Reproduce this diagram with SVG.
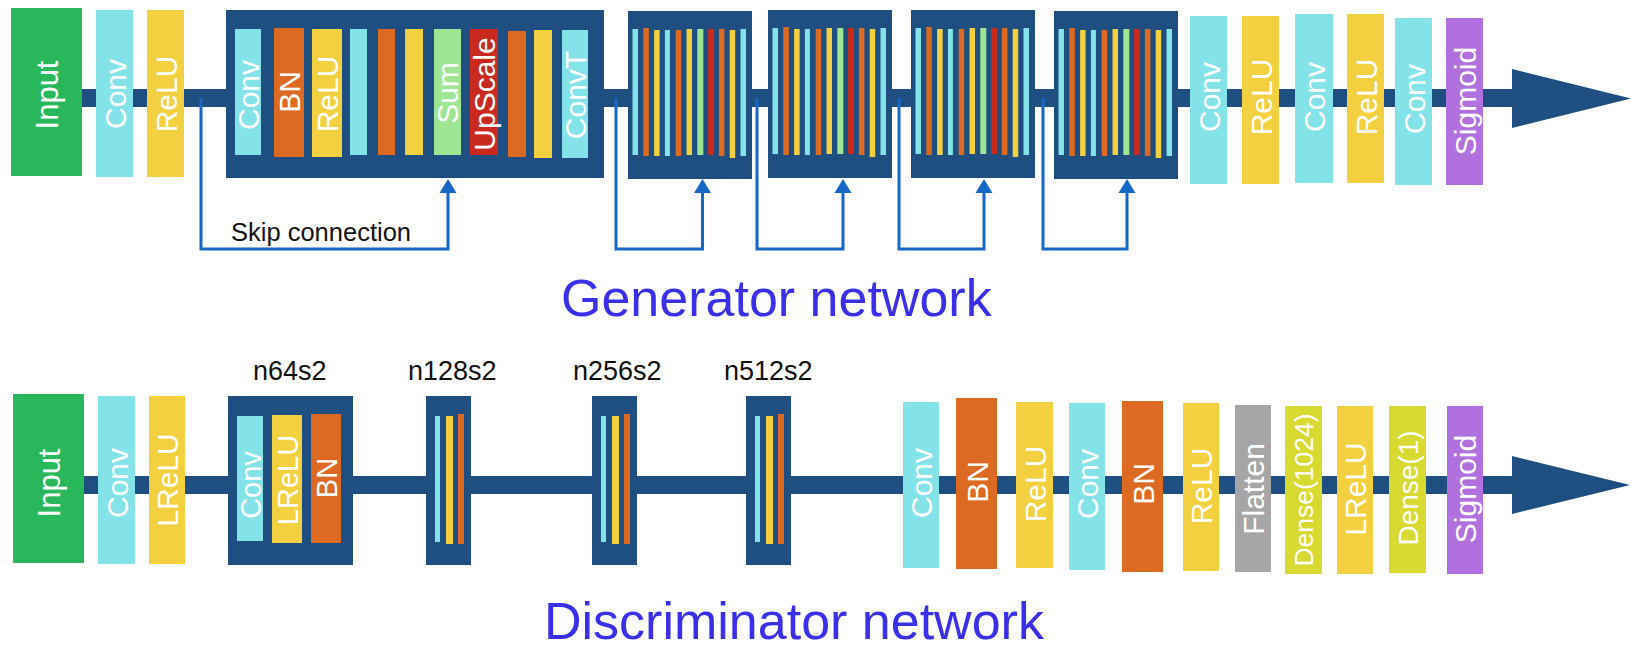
<svg xmlns="http://www.w3.org/2000/svg" xmlns:xlink="http://www.w3.org/1999/xlink" width="1636" height="648" viewBox="0 0 1636 648">
  <style>
    .navy { fill: #1e4f80; }
    .inp { fill: #28b75a; }
    .cyan { fill: #84e3e8; }
    .yel { fill: #f2d03f; }
    .org { fill: #dc6a22; }
    .mint { fill: #9ee694; }
    .red { fill: #c82b1d; }
    .pur { fill: #b070de; }
    .gray { fill: #a6a6a6; }
    .lime { fill: #d8d931; }
    .lbl { fill: #ffffff; font-family: "Liberation Sans", Arial, Helvetica, sans-serif; font-size: 30px; text-anchor: middle; }
    .cap { fill: #111111; font-family: "Liberation Sans", Arial, Helvetica, sans-serif; font-size: 27px; }
    .title { fill: #3b30ea; font-family: "Liberation Sans", Arial, Helvetica, sans-serif; font-size: 52px; }
    .skip { fill: none; stroke: #1767c4; stroke-width: 3; }
    .skiphead { fill: #1767c4; }
  </style>
  <defs>
    <!-- residual block: conv, bn, relu, conv, bn, relu, sum, upscale, bn, relu, convT -->
    <g id="resblock">
      <rect class="navy" x="0" y="0" width="124" height="168"/>
      <rect class="cyan" x="4.5" y="18" width="5.5" height="126"/>
      <rect class="org" x="15.3" y="17" width="5.5" height="128"/>
      <rect class="yel" x="26.1" y="19" width="5.5" height="126"/>
      <rect class="cyan" x="36.9" y="19" width="5" height="126"/>
      <rect class="org" x="47.7" y="19" width="5.5" height="126"/>
      <rect class="yel" x="58.5" y="18" width="5.5" height="126"/>
      <rect class="mint" x="69.3" y="18" width="6" height="126"/>
      <rect class="red" x="80.1" y="18" width="6" height="126"/>
      <rect class="org" x="90.9" y="18" width="5.5" height="127"/>
      <rect class="yel" x="101.7" y="19" width="5.5" height="128"/>
      <rect class="cyan" x="112.5" y="18" width="5.5" height="127"/>
    </g>
    <!-- strided block: conv, lrelu, bn -->
    <g id="strideblock">
      <rect class="navy" x="0" y="0" width="45" height="169"/>
      <rect class="cyan" x="9" y="20" width="5" height="126"/>
      <rect class="yel" x="20" y="20" width="7" height="128"/>
      <rect class="org" x="32" y="18" width="6" height="130"/>
    </g>
  </defs>

  <!-- ================= Generator ================= -->
  <g id="gen-connectors">
    <rect class="navy" x="80" y="89" width="1436" height="18"/>
    <polygon class="navy" points="1512,69 1631,98.5 1512,128"/>
    <path class="skip" d="M201 98 V249 H448 V192"/>
    <polygon class="skiphead" points="439.5,193 456.5,193 448,179"/>
    <path class="skip" d="M616 98 V249 H702.5 V192"/>
    <polygon class="skiphead" points="694,193 711,193 702.5,179"/>
    <path class="skip" d="M757 98 V249 H843 V192"/>
    <polygon class="skiphead" points="834.5,193 851.5,193 843,179"/>
    <path class="skip" d="M899 98 V249 H984 V192"/>
    <polygon class="skiphead" points="975.5,193 992.5,193 984,179"/>
    <path class="skip" d="M1043 98 V249 H1127 V192"/>
    <polygon class="skiphead" points="1118.5,193 1135.5,193 1127,179"/>
  </g>
  <text class="cap" x="231" y="241" style="font-size:25.5px">Skip connection</text>

  <g id="g-input">
    <rect class="inp" x="11" y="8" width="71" height="168"/>
    <text class="lbl" style="font-size:31px" transform="translate(58,95) rotate(-90)">Input</text>
  </g>
  <g id="g-conv1">
    <rect class="cyan" x="96" y="10" width="37" height="167"/>
    <text class="lbl" transform="translate(126,94) rotate(-90)">Conv</text>
  </g>
  <g id="g-relu1">
    <rect class="yel" x="147" y="10" width="37" height="167"/>
    <text class="lbl" transform="translate(177,94) rotate(-90)">ReLU</text>
  </g>

  <g id="g-resblock-detail">
    <rect class="navy" x="226" y="10" width="378" height="168"/>
    <rect class="cyan" x="235" y="29" width="26" height="126"/>
    <text class="lbl" transform="translate(259,95) rotate(-90)">Conv</text>
    <rect class="org" x="274" y="28" width="30" height="129"/>
    <text class="lbl" transform="translate(300,92) rotate(-90)">BN</text>
    <rect class="yel" x="312" y="29" width="30" height="128"/>
    <text class="lbl" transform="translate(338,94) rotate(-90)">ReLU</text>
    <rect class="cyan" x="350" y="29" width="17" height="126"/>
    <rect class="org" x="378" y="29" width="17" height="126"/>
    <rect class="yel" x="405" y="29" width="18" height="126"/>
    <rect class="mint" x="434" y="29" width="27" height="126"/>
    <text class="lbl" transform="translate(458,93) rotate(-90)">Sum</text>
    <rect class="red" x="470" y="29" width="28" height="126"/>
    <text class="lbl" transform="translate(495,94) rotate(-90)">UpScale</text>
    <rect class="org" x="508" y="31" width="18" height="126"/>
    <rect class="yel" x="534" y="30" width="18" height="128"/>
    <rect class="cyan" x="562" y="30" width="26" height="128"/>
    <text class="lbl" transform="translate(586,95) rotate(-90)">ConvT</text>
  </g>

  <g id="g-resblock-1"><use xlink:href="#resblock" x="628" y="11"/></g>
  <g id="g-resblock-2"><use xlink:href="#resblock" x="768" y="10"/></g>
  <g id="g-resblock-3"><use xlink:href="#resblock" x="911" y="10"/></g>
  <g id="g-resblock-4"><use xlink:href="#resblock" x="1054" y="11"/></g>

  <g id="g-conv2">
    <rect class="cyan" x="1190" y="16" width="37" height="168"/>
    <text class="lbl" transform="translate(1220,97) rotate(-90)">Conv</text>
  </g>
  <g id="g-relu2">
    <rect class="yel" x="1242" y="16" width="37" height="168"/>
    <text class="lbl" transform="translate(1272,97) rotate(-90)">ReLU</text>
  </g>
  <g id="g-conv3">
    <rect class="cyan" x="1295" y="14" width="38" height="169"/>
    <text class="lbl" transform="translate(1325,97) rotate(-90)">Conv</text>
  </g>
  <g id="g-relu3">
    <rect class="yel" x="1347" y="14" width="37" height="169"/>
    <text class="lbl" transform="translate(1377,97) rotate(-90)">ReLU</text>
  </g>
  <g id="g-conv4">
    <rect class="cyan" x="1395" y="18" width="37" height="167"/>
    <text class="lbl" transform="translate(1425,99) rotate(-90)">Conv</text>
  </g>
  <g id="g-sigmoid">
    <rect class="pur" x="1446" y="18" width="37" height="167"/>
    <text class="lbl" transform="translate(1476,101) rotate(-90)">Sigmoid</text>
  </g>

  <text class="title" x="561" y="316">Generator network</text>

  <!-- ================= Discriminator ================= -->
  <g id="disc-connectors">
    <rect class="navy" x="80" y="476" width="1436" height="18"/>
    <polygon class="navy" points="1512,456 1630,485 1512,514"/>
  </g>

  <g id="d-input">
    <rect class="inp" x="13" y="394" width="71" height="169"/>
    <text class="lbl" style="font-size:31px" transform="translate(60,483) rotate(-90)">Input</text>
  </g>
  <g id="d-conv1">
    <rect class="cyan" x="98" y="396" width="37" height="168"/>
    <text class="lbl" transform="translate(128,483) rotate(-90)">Conv</text>
  </g>
  <g id="d-lrelu1">
    <rect class="yel" x="149" y="396" width="36" height="168"/>
    <text class="lbl" transform="translate(178,480) rotate(-90)">LReLU</text>
  </g>

  <g id="d-block-n64s2">
    <rect class="navy" x="228" y="396" width="125" height="169"/>
    <rect class="cyan" x="237" y="416" width="26" height="125"/>
    <text class="lbl" style="font-size:29px" transform="translate(261,485) rotate(-90)">Conv</text>
    <rect class="yel" x="272" y="415" width="30" height="128"/>
    <text class="lbl" style="font-size:29px" transform="translate(298,480) rotate(-90)">LReLU</text>
    <rect class="org" x="311" y="414" width="30" height="129"/>
    <text class="lbl" style="font-size:29px" transform="translate(337,478) rotate(-90)">BN</text>
  </g>
  <g id="d-block-n128s2"><use xlink:href="#strideblock" x="426" y="396"/></g>
  <g id="d-block-n256s2"><use xlink:href="#strideblock" x="592" y="396"/></g>
  <g id="d-block-n512s2"><use xlink:href="#strideblock" x="746" y="396"/></g>

  <text class="cap" x="253" y="380">n64s2</text>
  <text class="cap" x="408" y="380">n128s2</text>
  <text class="cap" x="573" y="380">n256s2</text>
  <text class="cap" x="724" y="380">n512s2</text>

  <g id="d-conv2">
    <rect class="cyan" x="903" y="402" width="36" height="166"/>
    <text class="lbl" transform="translate(932,483) rotate(-90)">Conv</text>
  </g>
  <g id="d-bn1">
    <rect class="org" x="956" y="398" width="41" height="171"/>
    <text class="lbl" transform="translate(988,482) rotate(-90)">BN</text>
  </g>
  <g id="d-relu1">
    <rect class="yel" x="1016" y="402" width="37" height="166"/>
    <text class="lbl" transform="translate(1046,484) rotate(-90)">ReLU</text>
  </g>
  <g id="d-conv3">
    <rect class="cyan" x="1069" y="403" width="36" height="167"/>
    <text class="lbl" transform="translate(1098,484) rotate(-90)">Conv</text>
  </g>
  <g id="d-bn2">
    <rect class="org" x="1122" y="401" width="41" height="171"/>
    <text class="lbl" transform="translate(1154,484) rotate(-90)">BN</text>
  </g>
  <g id="d-relu2">
    <rect class="yel" x="1183" y="403" width="36" height="168"/>
    <text class="lbl" transform="translate(1212,486) rotate(-90)">ReLU</text>
  </g>
  <g id="d-flatten">
    <rect class="gray" x="1235" y="405" width="36" height="167"/>
    <text class="lbl" transform="translate(1264,489) rotate(-90)">Flatten</text>
  </g>
  <g id="d-dense1024">
    <rect class="lime" x="1285" y="406" width="37" height="168"/>
    <text class="lbl" style="font-size:26.5px" transform="translate(1313,490) rotate(-90)">Dense(1024)</text>
  </g>
  <g id="d-lrelu2">
    <rect class="yel" x="1337" y="406" width="36" height="168"/>
    <text class="lbl" transform="translate(1366,489) rotate(-90)">LReLU</text>
  </g>
  <g id="d-dense1">
    <rect class="lime" x="1389" y="406" width="37" height="167"/>
    <text class="lbl" style="font-size:28px" transform="translate(1418,488) rotate(-90)">Dense(1)</text>
  </g>
  <g id="d-sigmoid">
    <rect class="pur" x="1447" y="406" width="36" height="168"/>
    <text class="lbl" transform="translate(1476,489) rotate(-90)">Sigmoid</text>
  </g>

  <text class="title" x="544" y="639">Discriminator network</text>
</svg>
